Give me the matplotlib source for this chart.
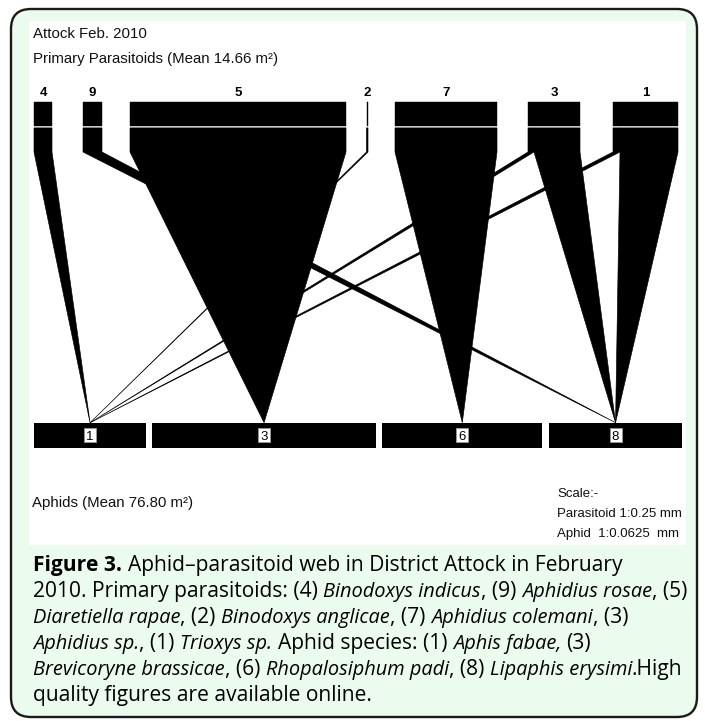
import matplotlib
matplotlib.use('Agg')
import matplotlib.pyplot as plt
from matplotlib.patches import Rectangle, Polygon, FancyBboxPatch

# ---------------- data ----------------
site_title = "Attock Feb. 2010"
parasitoid_title = "Primary Parasitoids (Mean 14.66 m²)"
aphid_title = "Aphids (Mean 76.80 m²)"
scale_lines = ["Scale:-", "Parasitoid 1:0.25 mm", "Aphid  1:0.0625  mm"]

parasitoid_ids = ['4', '9', '5', '2', '7', '3', '1']
parasitoid_size = [18.0, 19.0, 216.0, 1.5, 102.0, 52.0, 65.0]

aphid_ids = ['1', '3', '6', '8']
aphid_size = [111.5, 223.5, 160.0, 133.5]

link_parasitoid = ['4', '9', '5', '2', '7', '3', '3', '1', '1']
link_aphid = ['1', '8', '3', '1', '6', '1', '8', '1', '8']
link_size = [18.0, 19.0, 216.0, 1.5, 102.0, 6.0, 46.0, 7.0, 58.0]

caption_lines = [
    [("Figure 3.", 'b'), (" Aphid\u2013parasitoid web in District Attock in February", 'n')],
    [("2010. Primary parasitoids: (4) ", 'n'), ("Binodoxys indicus", 'i'), (", (9) ", 'n'),
     ("Aphidius rosae", 'i'), (", (5)", 'n')],
    [("Diaretiella rapae", 'i'), (", (2) ", 'n'), ("Binodoxys anglicae", 'i'), (", (7) ", 'n'),
     ("Aphidius colemani", 'i'), (", (3)", 'n')],
    [("Aphidius sp.", 'i'), (", (1) ", 'n'), ("Trioxys sp.", 'i'), (" Aphid species: (1) ", 'n'),
     ("Aphis fabae,", 'i'), (" (3)", 'n')],
    [("Brevicoryne brassicae", 'i'), (", (6) ", 'n'), ("Rhopalosiphum padi", 'i'), (", (8) ", 'n'),
     ("Lipaphis erysimi", 'i'), (".High", 'n')],
    [("quality figures are available online.", 'n')],
]

# ---------------- layout ----------------
W, H = 705, 721
fig = plt.figure(figsize=(W / 100, H / 100), dpi=100)
ax = fig.add_axes([0, 0, 1, 1])
ax.set_xlim(0, W)
ax.set_ylim(H, 0)
ax.axis('off')

chart_font = ['Liberation Sans', 'DejaVu Sans']
cap_font = ['Open Sans', 'DejaVu Sans']

# frame
ax.add_patch(FancyBboxPatch((11, 9), 686, 708, boxstyle="round,pad=0,rounding_size=20",
                            fc='#ebfcef', ec='#1a1a1a', lw=1.7, zorder=0))
ax.add_patch(Rectangle((29, 21), 657, 524, fc='white', ec='none', zorder=1))

# positions
par_x0 = 34.0
par_gaps = [31, 28, 20.5, 27, 31, 33]
aph_x0 = 34.3
aph_gap = 6.5

par_left = {}
x = par_x0
for i, (pid, s) in enumerate(zip(parasitoid_ids, parasitoid_size)):
    par_left[pid] = x
    x += s
    if i < len(par_gaps):
        x += par_gaps[i]

aph_left = {}
x = aph_x0
for aid, s in zip(aphid_ids, aphid_size):
    aph_left[aid] = x
    x += s + aph_gap

y_bar_top = 101.7
y_bar_bot = 126.4
y_link_top = 127.9
y_link_bend = 152.0
y_aph_top = 422.7
y_aph_bot = 447.7

# parasitoid bars + labels
for pid, s in zip(parasitoid_ids, parasitoid_size):
    ax.add_patch(Rectangle((par_left[pid], y_bar_top), s, y_bar_bot - y_bar_top,
                           fc='black', ec='black', lw=0.3, zorder=3))
    ax.text(par_left[pid] + s / 2, 95.5, pid, ha='center', va='baseline',
            fontsize=9.5, fontweight='bold', family=chart_font, zorder=4)

# aphid bars + labels
aph_center = {}
for aid, s in zip(aphid_ids, aphid_size):
    ax.add_patch(Rectangle((aph_left[aid], y_aph_top), s, y_aph_bot - y_aph_top,
                           fc='black', ec='none', zorder=3))
    cx = aph_left[aid] + s / 2
    aph_center[aid] = cx
    ax.add_patch(Rectangle((cx - 6, 428.3), 12, 13.4, fc='white', ec='#999999', lw=0.6, zorder=4))
    ax.text(cx, 439.7, aid, ha='center', va='baseline', fontsize=9.5, family=chart_font, zorder=5)

# links
offset = {pid: par_left[pid] for pid in parasitoid_ids}
order = sorted(range(len(link_size)),
               key=lambda k: (parasitoid_ids.index(link_parasitoid[k]), aphid_ids.index(link_aphid[k])))
for k in order:
    p, a, s = link_parasitoid[k], link_aphid[k], link_size[k]
    xa = offset[p]
    xb = xa + s
    offset[p] = xb
    apex = aph_center[a]
    poly = [(xa, y_link_top), (xb, y_link_top), (xb, y_link_bend), (apex, y_aph_top), (xa, y_link_bend)]
    ax.add_patch(Polygon(poly, closed=True, fc='black', ec='black', lw=0.45, joinstyle='miter', zorder=2))

# chart texts
ax.text(33, 38.3, site_title, fontsize=10.8, family=chart_font, color='#111111', va='baseline')
ax.text(33, 62.5, parasitoid_title, fontsize=10.8, family=chart_font, color='#111111', va='baseline')
ax.text(32.5, 507, aphid_title, fontsize=10.8, family=chart_font, color='#111111', va='baseline')
for i, line in enumerate(scale_lines):
    ax.text(557, 496.7 + 20 * i, line, fontsize=9.5, family=chart_font, color='#111111', va='baseline')

# caption with mixed styles
renderer = fig.canvas.get_renderer()
styles = {'n': dict(style='normal', weight='normal'),
          'i': dict(style='italic', weight='normal'),
          'b': dict(style='normal', weight='bold')}


def ext(s, st, size):
    t = ax.text(0, 0, s, fontsize=size, family=cap_font, **styles[st])
    w = t.get_window_extent(renderer=renderer).width
    t.remove()
    return w


def adv(s, st, size):
    if not s:
        return 0.0
    return ext('I' + s + 'I', st, size) - ext('II', st, size)


cap_x0 = 33.0
base_size = 14.0
ital_ratio = 0.95
rel = {'n': 1.0, 'b': 1.0, 'i': ital_ratio}
w2 = sum(adv(f, st, base_size * rel[st]) for f, st in caption_lines[1])
s0 = base_size * (688.0 - cap_x0) / w2
sizes = {k: s0 * v for k, v in rel.items()}

base0 = 570.5
spacing = 26.0
for li, line in enumerate(caption_lines):
    x = cap_x0
    yb = base0 + spacing * li
    for frag, st in line:
        sz = sizes[st]
        lead = len(frag) - len(frag.lstrip(' '))
        core = frag.strip(' ')
        x += adv(' ' * lead, st, sz)
        ax.text(x, yb, core, fontsize=sz, family=cap_font, va='baseline', ha='left',
                color='black', **styles[st])
        x += adv(frag[lead:], st, sz)

fig.savefig('out.png', dpi=100)
